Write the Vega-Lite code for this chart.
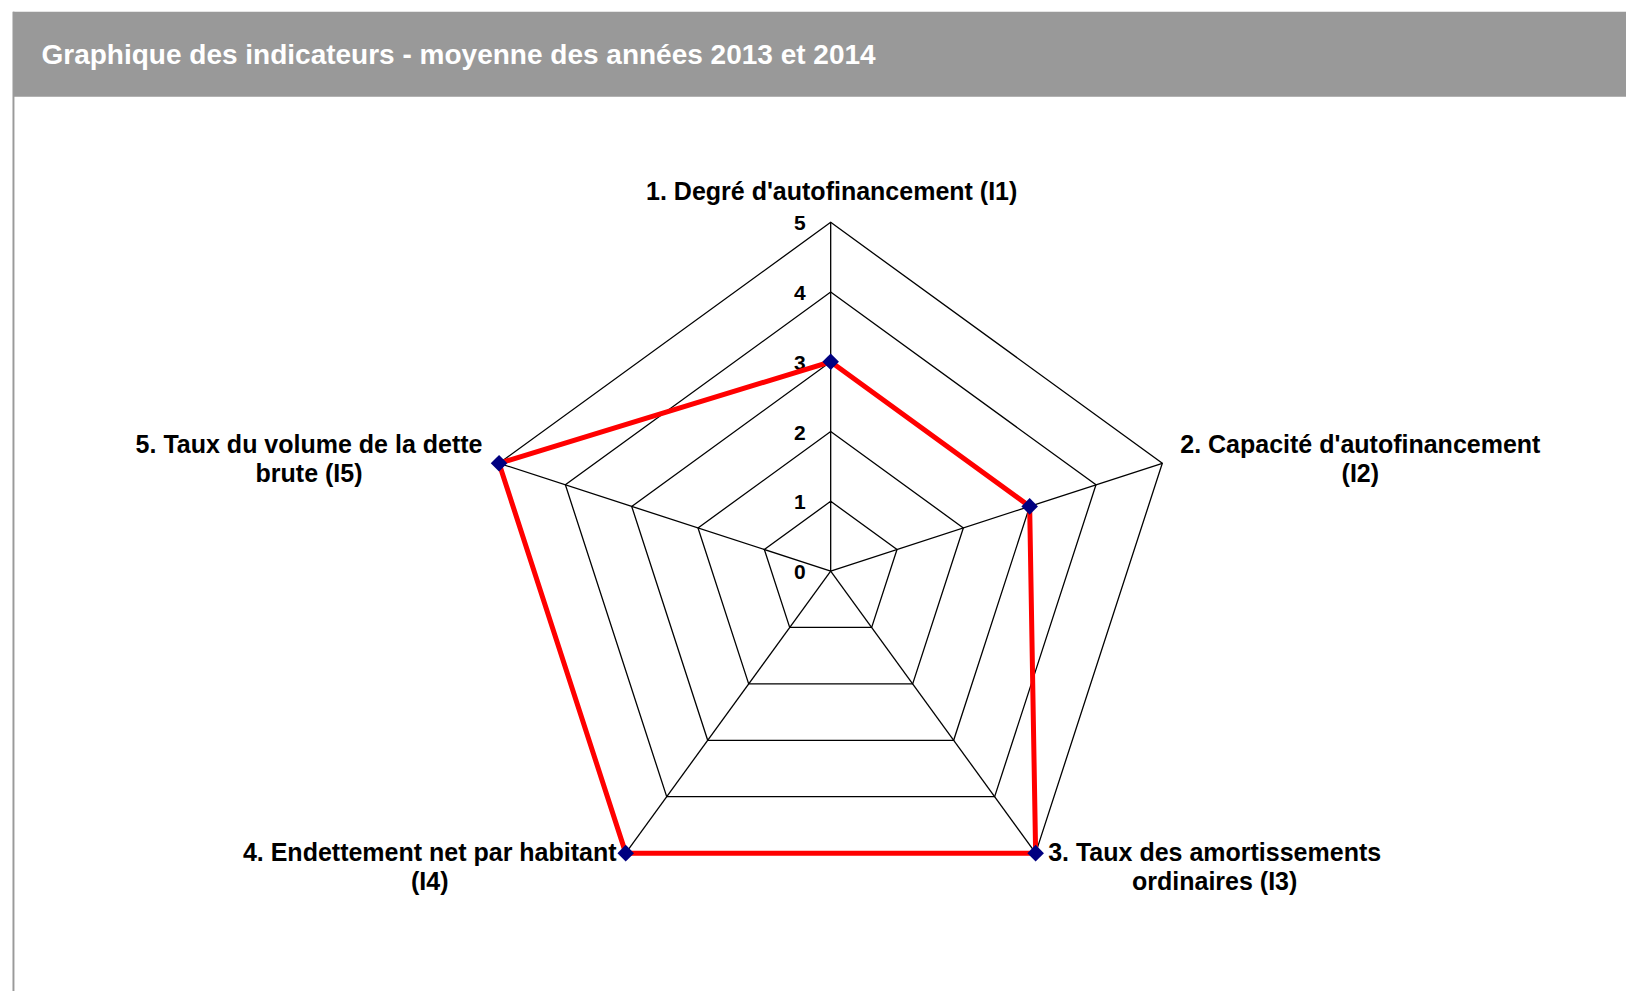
{
  "$schema": "https://vega.github.io/schema/vega-lite/v6.json",
  "width": 1626,
  "height": 991,
  "autosize": {"type": "fit", "contains": "padding"},
  "padding": 0,
  "background": "white",
  "config": {"view": {"stroke": null}, "axis": {"disable": true}, "text": {"font": "Liberation Sans"}},
  "datasets": {
    "scores": [
      {"k": 0, "libelle": "1. Degré d'autofinancement (I1)", "valeur": 3},
      {"k": 1, "libelle": "2. Capacité d'autofinancement\n(I2)", "valeur": 3},
      {"k": 2, "libelle": "3. Taux des amortissements\nordinaires (I3)", "valeur": 5},
      {"k": 3, "libelle": "4. Endettement net par habitant\n(I4)", "valeur": 5},
      {"k": 4, "libelle": "5. Taux du volume de la dette\nbrute (I5)", "valeur": 5}
    ],
    "grille": [
      {"niveau": 0, "k": [0, 1, 2, 3, 4]},
      {"niveau": 1, "k": [0, 1, 2, 3, 4]},
      {"niveau": 2, "k": [0, 1, 2, 3, 4]},
      {"niveau": 3, "k": [0, 1, 2, 3, 4]},
      {"niveau": 4, "k": [0, 1, 2, 3, 4]},
      {"niveau": 5, "k": [0, 1, 2, 3, 4]}
    ],
    "entete": [{"titre": "Graphique des indicateurs - moyenne des années 2013 et 2014"}]
  },
  "layer": [
    {
      "data": {"name": "grille"},
      "transform": [
        {"flatten": ["k"]},
        {"filter": "datum.niveau > 0"},
        {"calculate": "datum.niveau * sin(datum.k * 2 * PI / 5)", "as": "gx"},
        {"calculate": "datum.niveau * cos(datum.k * 2 * PI / 5)", "as": "gy"}
      ],
      "mark": {"type": "line", "interpolate": "linear-closed", "color": "black", "strokeWidth": 1.3},
      "encoding": {
        "x": {"field": "gx", "type": "quantitative", "scale": {"domain": [-11.911, 11.404], "nice": false, "zero": false}},
        "y": {"field": "gy", "type": "quantitative", "scale": {"domain": [-6.022, 8.188], "nice": false, "zero": false}},
        "detail": {"field": "niveau", "type": "nominal"},
        "order": {"field": "k", "type": "quantitative"}
      }
    },
    {
      "data": {"name": "grille"},
      "transform": [
        {"flatten": ["k"]},
        {"filter": "datum.niveau == 0 || datum.niveau == 5"},
        {"calculate": "datum.niveau * sin(datum.k * 2 * PI / 5)", "as": "gx"},
        {"calculate": "datum.niveau * cos(datum.k * 2 * PI / 5)", "as": "gy"}
      ],
      "mark": {"type": "line", "color": "black", "strokeWidth": 1.3},
      "encoding": {
        "x": {"field": "gx", "type": "quantitative"},
        "y": {"field": "gy", "type": "quantitative"},
        "detail": {"field": "k", "type": "nominal"},
        "order": {"field": "niveau", "type": "quantitative"}
      }
    },
    {
      "data": {"name": "grille"},
      "mark": {"type": "text", "fontSize": 21, "fontWeight": "bold", "color": "black", "align": "right", "baseline": "alphabetic", "dx": -25, "dy": 8},
      "encoding": {
        "x": {"datum": 0, "type": "quantitative"},
        "y": {"field": "niveau", "type": "quantitative"},
        "text": {"field": "niveau", "type": "quantitative"}
      }
    },
    {
      "data": {"name": "scores"},
      "transform": [
        {"calculate": "datum.valeur * sin(datum.k * 2 * PI / 5)", "as": "px"},
        {"calculate": "datum.valeur * cos(datum.k * 2 * PI / 5)", "as": "py"}
      ],
      "mark": {"type": "line", "interpolate": "linear-closed", "color": "#ff0000", "strokeWidth": 5},
      "encoding": {
        "x": {"field": "px", "type": "quantitative"},
        "y": {"field": "py", "type": "quantitative"},
        "order": {"field": "k", "type": "quantitative"}
      }
    },
    {
      "data": {"name": "scores"},
      "transform": [
        {"calculate": "datum.valeur * sin(datum.k * 2 * PI / 5)", "as": "px"},
        {"calculate": "datum.valeur * cos(datum.k * 2 * PI / 5)", "as": "py"}
      ],
      "mark": {"type": "point", "shape": "diamond", "filled": true, "color": "#000080", "size": 275, "opacity": 1},
      "encoding": {
        "x": {"field": "px", "type": "quantitative"},
        "y": {"field": "py", "type": "quantitative"}
      }
    },
    {
      "data": {"name": "scores"},
      "transform": [
        {"filter": "datum.k == 0"},
        {"calculate": "5 * sin(datum.k * 2 * PI / 5)", "as": "lx"},
        {"calculate": "5 * cos(datum.k * 2 * PI / 5)", "as": "ly"}
      ],
      "mark": {"type": "text", "fontSize": 25, "fontWeight": "bold", "color": "black", "align": "center", "baseline": "alphabetic", "dx": 1, "dy": -22},
      "encoding": {"x": {"field": "lx", "type": "quantitative"}, "y": {"field": "ly", "type": "quantitative"}, "text": {"field": "libelle", "type": "nominal"}}
    },
    {
      "data": {"name": "scores"},
      "transform": [
        {"filter": "datum.k == 1"},
        {"calculate": "5 * sin(datum.k * 2 * PI / 5)", "as": "lx"},
        {"calculate": "5 * cos(datum.k * 2 * PI / 5)", "as": "ly"}
      ],
      "mark": {"type": "text", "fontSize": 25, "fontWeight": "bold", "color": "black", "align": "center", "baseline": "top", "lineBreak": "\n", "lineHeight": 29, "dx": 198, "dy": -30},
      "encoding": {"x": {"field": "lx", "type": "quantitative"}, "y": {"field": "ly", "type": "quantitative"}, "text": {"field": "libelle", "type": "nominal"}}
    },
    {
      "data": {"name": "scores"},
      "transform": [
        {"filter": "datum.k == 2"},
        {"calculate": "5 * sin(datum.k * 2 * PI / 5)", "as": "lx"},
        {"calculate": "5 * cos(datum.k * 2 * PI / 5)", "as": "ly"}
      ],
      "mark": {"type": "text", "fontSize": 25, "fontWeight": "bold", "color": "black", "align": "center", "baseline": "top", "lineBreak": "\n", "lineHeight": 29, "dx": 179, "dy": -12},
      "encoding": {"x": {"field": "lx", "type": "quantitative"}, "y": {"field": "ly", "type": "quantitative"}, "text": {"field": "libelle", "type": "nominal"}}
    },
    {
      "data": {"name": "scores"},
      "transform": [
        {"filter": "datum.k == 3"},
        {"calculate": "5 * sin(datum.k * 2 * PI / 5)", "as": "lx"},
        {"calculate": "5 * cos(datum.k * 2 * PI / 5)", "as": "ly"}
      ],
      "mark": {"type": "text", "fontSize": 25, "fontWeight": "bold", "color": "black", "align": "center", "baseline": "top", "lineBreak": "\n", "lineHeight": 29, "dx": -196, "dy": -12},
      "encoding": {"x": {"field": "lx", "type": "quantitative"}, "y": {"field": "ly", "type": "quantitative"}, "text": {"field": "libelle", "type": "nominal"}}
    },
    {
      "data": {"name": "scores"},
      "transform": [
        {"filter": "datum.k == 4"},
        {"calculate": "5 * sin(datum.k * 2 * PI / 5)", "as": "lx"},
        {"calculate": "5 * cos(datum.k * 2 * PI / 5)", "as": "ly"}
      ],
      "mark": {"type": "text", "fontSize": 25, "fontWeight": "bold", "color": "black", "align": "center", "baseline": "top", "lineBreak": "\n", "lineHeight": 29, "dx": -190, "dy": -30},
      "encoding": {"x": {"field": "lx", "type": "quantitative"}, "y": {"field": "ly", "type": "quantitative"}, "text": {"field": "libelle", "type": "nominal"}}
    },
    {
      "data": {"name": "entete"},
      "mark": {"type": "rect", "color": "#999999"},
      "encoding": {
        "x": {"datum": -11.725, "type": "quantitative"},
        "x2": {"datum": 11.404},
        "y": {"datum": 8.02, "type": "quantitative"},
        "y2": {"datum": 6.801}
      }
    },
    {
      "data": {"name": "entete"},
      "mark": {"type": "rect", "color": "#9a9a9a"},
      "encoding": {
        "x": {"datum": -11.732, "type": "quantitative"},
        "x2": {"datum": -11.704},
        "y": {"datum": 8.02, "type": "quantitative"},
        "y2": {"datum": -6.022}
      }
    },
    {
      "data": {"name": "entete"},
      "mark": {"type": "text", "color": "white", "fontWeight": "bold", "fontSize": 28, "align": "left", "baseline": "alphabetic"},
      "encoding": {
        "x": {"datum": -11.316, "type": "quantitative"},
        "y": {"datum": 7.27, "type": "quantitative"},
        "text": {"field": "titre", "type": "nominal"}
      }
    }
  ]
}
